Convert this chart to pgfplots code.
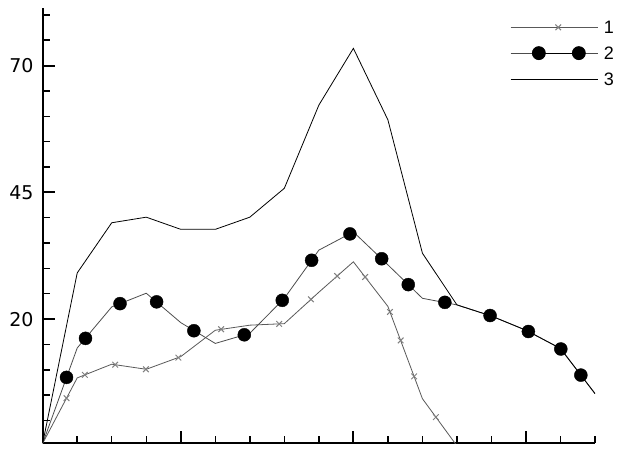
\documentclass[border=0pt]{standalone}
\usepackage{fontspec}
\setmainfont{DejaVu Sans}
\newfontfamily\legfont{Liberation Sans}
\usepackage{pgfplots}
\pgfplotsset{compat=1.18}
\begin{document}
\begin{tikzpicture}
\useasboundingbox (-42.7pt,-13.7pt) rectangle (596.3pt,443.3pt);
\begin{axis}[
  scale only axis, width=552.3pt, height=435pt,
  xmin=0, xmax=16, ymin=-4.5, ymax=81.3,
  axis lines=left,
  axis line style={-, line width=2pt},
  tick align=inside,
  xtick={4,9,14},
  minor xtick={1,2,3,5,6,7,8,10,11,12,13,15,16},
  xticklabels={},
  ytick={20,45,70},
  minor ytick={0,5,10,15,25,30,35,40,50,55,60,65,75,80},
  yticklabels={20\hspace{7pt},45\hspace{5pt},70},
  yticklabel style={font=\fontsize{19}{19}\selectfont, inner sep=0pt, xshift=-9pt},
  major tick length=12pt, minor tick length=7pt,
  major tick style={line width=2pt, black},
  minor tick style={line width=1.5pt, black},
  legend style={draw=none, fill=none, at={(rel axis cs:0.846,0.972)}, anchor=north west,
    inner sep=0pt, row sep=12.5pt, column sep=6pt,
    nodes={inner sep=0pt, text height=13.3pt, text depth=0pt, font=\legfont\fontsize{18}{18}\selectfont}},
  legend cell align=left,
]
\addplot[black!65, line width=0.8pt, mark=none,
  legend image code/.code={
    \draw[black!65, line width=0.8pt] (0pt,0pt) -- (87pt,0pt);
    \draw[black!50, line width=1pt, mark=x, mark size=4pt] plot coordinates {(47.7pt,0pt)};
  }] coordinates {
(0,-4.5)(1,8.4)(2,11.1)(3,10.1)(4,12.6)(5,17.8)(6,18.8)(7,19.1)(8,25.3)(9,31.3)(10,22.5)(11,4.3)(12,-5.0)
};
\addlegendentry{1}
\addplot[black!70, line width=0.8pt, mark=none,
  legend image code/.code={
    \draw[black!70, line width=0.8pt] (0pt,0pt) -- (87pt,0pt);
    \draw[black, mark=*, mark size=6.5pt] plot coordinates {(28.3pt,0pt) (68.3pt,0pt)};
  }] coordinates {
(0,-4.5)(1,14.3)(2,22.4)(3,25.1)(4,19.3)(5,15.2)(6,17.2)(7,24.1)(8,33.6)(9,37.2)(10,30.7)(11,24.1)(12,22.8)(13,20.6)(14,17.8)(15,14.2)(16,5.3)
};
\addlegendentry{2}
\addplot[black, line width=0.8pt, mark=none,
  legend image code/.code={
    \draw[black, line width=0.8pt] (0pt,0pt) -- (87pt,0pt);
  }] coordinates {
(0,-4.5)(1,29.1)(2,39.0)(3,40.1)(4,37.7)(5,37.7)(6,40.1)(7,45.8)(8,62.2)(9,73.4)(10,59.3)(11,33.0)(12,22.8)(13,20.6)(14,17.8)(15,14.2)(16,5.3)
};
\addlegendentry{3}
\addplot[only marks, forget plot, mark=*, mark size=6.5pt, black] coordinates {
(0.69,8.5)(1.24,16.2)(2.24,23.05)(3.30,23.4)(4.38,17.7)(5.84,16.9)(6.94,23.7)(7.79,31.6)(8.90,36.8)(9.82,31.9)(10.59,26.8)(11.65,23.3)(12.96,20.7)(14.07,17.55)(15.01,14.1)(15.59,8.95)
};
\addplot[only marks, forget plot, mark=x, mark size=4pt, black!50, line width=1pt] coordinates {
(0.69,4.4)(1.22,9.0)(2.10,11.0)(2.99,10.1)(3.93,12.4)(5.17,18.0)(6.85,19.05)(7.77,23.9)(8.53,28.5)(9.34,28.3)(10.06,21.4)(10.37,15.8)(10.76,8.7)(11.39,0.67)
};
\end{axis}
\end{tikzpicture}
\end{document}
